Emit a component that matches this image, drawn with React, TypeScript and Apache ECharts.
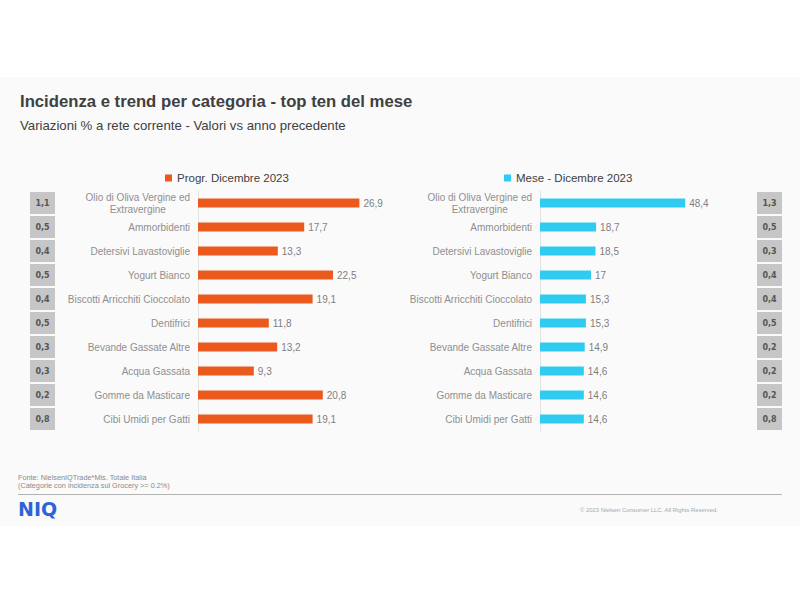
import React, { useEffect, useRef } from "react";
import * as echarts from "echarts";

const categories = [
  "Olio di Oliva Vergine ed\nExtravergine",
  "Ammorbidenti",
  "Detersivi Lavastoviglie",
  "Yogurt Bianco",
  "Biscotti Arricchiti Cioccolato",
  "Dentifrici",
  "Bevande Gassate Altre",
  "Acqua Gassata",
  "Gomme da Masticare",
  "Cibi Umidi per Gatti",
];
const progrValues = [26.9, 17.7, 13.3, 22.5, 19.1, 11.8, 13.2, 9.3, 20.8, 19.1];
const meseValues = [48.4, 18.7, 18.5, 17, 15.3, 15.3, 14.9, 14.6, 14.6, 14.6];
const progrShare = ["1,1", "0,5", "0,4", "0,5", "0,4", "0,5", "0,3", "0,3", "0,2", "0,8"];
const meseShare = ["1,3", "0,5", "0,3", "0,4", "0,4", "0,5", "0,2", "0,2", "0,2", "0,8"];
const seriesNames = ["Progr. Dicembre 2023", "Mese - Dicembre 2023"];

const FONT = "Arial, 'Liberation Sans', sans-serif";
const ORANGE = "#EA5A1F";
const CYAN = "#2FCBF1";
const LABEL_GRAY = "#8f8f8f";

const catLabel = {
  margin: 8,
  fontSize: 10,
  fontFamily: FONT,
  color: LABEL_GRAY,
  lineHeight: 12,
  formatter: (v: string) =>
    v.includes("\n")
      ? v
          .split("\n")
          .map((l) => `{c|${l}}`)
          .join("\n")
      : v,
  rich: {
    c: { align: "center", fontSize: 10, fontFamily: FONT, color: LABEL_GRAY, lineHeight: 12 },
  },
};

const boxRich = {
  b: {
    backgroundColor: "#c6c6c6",
    width: 25,
    height: 22,
    lineHeight: 22,
    align: "center",
    fontSize: 8,
    fontWeight: "bold",
    fontFamily: "'DejaVu Sans', sans-serif",
    color: "#555555",
  },
};

const fmt = (v: number) => String(v).replace(".", ",");

export default function App() {
  const ref = useRef<HTMLDivElement>(null);
  useEffect(() => {
    if (!ref.current) return;
    const chart = echarts.init(ref.current, undefined, { renderer: "svg" });
    chart.setOption({
      animation: false,
      backgroundColor: "#ffffff",
      textStyle: { fontFamily: FONT },
      legend: [
        {
          data: [seriesNames[0]],
          left: 160,
          top: 167,
          icon: "rect",
          itemWidth: 7,
          itemHeight: 7,
          itemGap: 5,
          textStyle: { fontSize: 11.5, color: "#404040", fontFamily: FONT },
        },
        {
          data: [seriesNames[1]],
          left: 499,
          top: 167,
          icon: "rect",
          itemWidth: 7,
          itemHeight: 7,
          itemGap: 5,
          textStyle: { fontSize: 11.5, color: "#404040", fontFamily: FONT },
        },
      ],
      grid: [
        { left: 198, top: 191, width: 180, height: 240 },
        { left: 540, top: 191, width: 198, height: 240 },
      ],
      xAxis: [
        { gridIndex: 0, type: "value", min: 0, max: 30, show: false },
        { gridIndex: 1, type: "value", min: 0, max: 66, show: false },
      ],
      yAxis: [
        {
          gridIndex: 0,
          type: "category",
          inverse: true,
          data: categories,
          axisLine: { show: true, lineStyle: { color: "#e4e4e4", width: 1 } },
          axisTick: { show: false },
          axisLabel: catLabel,
        },
        {
          gridIndex: 0,
          type: "category",
          inverse: true,
          data: categories,
          position: "left",
          offset: 143,
          axisLine: { show: false },
          axisTick: { show: false },
          axisLabel: {
            margin: 0,
            formatter: (_v: string, i: number) => `{b|${progrShare[i]}}`,
            rich: boxRich,
          },
        },
        {
          gridIndex: 1,
          type: "category",
          inverse: true,
          data: categories,
          axisLine: { show: true, lineStyle: { color: "#e4e4e4", width: 1 } },
          axisTick: { show: false },
          axisLabel: catLabel,
        },
        {
          gridIndex: 1,
          type: "category",
          inverse: true,
          data: categories,
          position: "right",
          offset: 19,
          axisLine: { show: false },
          axisTick: { show: false },
          axisLabel: {
            margin: 0,
            formatter: (_v: string, i: number) => `{b|${meseShare[i]}}`,
            rich: boxRich,
          },
        },
      ],
      series: [
        {
          name: seriesNames[0],
          type: "bar",
          xAxisIndex: 0,
          yAxisIndex: 0,
          data: progrValues,
          barWidth: 9,
          itemStyle: { color: ORANGE },
          label: {
            show: true,
            position: "right",
            distance: 4,
            fontSize: 10,
            fontFamily: FONT,
            color: "#7f7f7f",
            formatter: (p: any) => fmt(p.value),
          },
        },
        {
          name: seriesNames[1],
          type: "bar",
          xAxisIndex: 1,
          yAxisIndex: 2,
          data: meseValues,
          barWidth: 9,
          itemStyle: { color: CYAN },
          label: {
            show: true,
            position: "right",
            distance: 4,
            fontSize: 10,
            fontFamily: FONT,
            color: "#7f7f7f",
            formatter: (p: any) => fmt(p.value),
          },
        },
      ],
      graphic: [
        {
          type: "rect",
          z: -10,
          shape: { x: 0, y: 77, width: 800, height: 449 },
          style: { fill: "#fafafa" },
          silent: true,
        },
        {
          type: "text",
          x: 20,
          y: 101,
          style: {
            text: "Incidenza e trend per categoria - top ten del mese",
            font: `bold 16.7px ${FONT}`,
            fill: "#404040",
            verticalAlign: "middle",
          },
        },
        {
          type: "text",
          x: 20,
          y: 125,
          style: {
            text: "Variazioni % a rete corrente - Valori vs anno precedente",
            font: `13.2px ${FONT}`,
            fill: "#404040",
            verticalAlign: "middle",
          },
        },
        {
          type: "text",
          x: 18,
          y: 477,
          style: {
            text: "Fonte: NielsenIQTrade*Mis. Totale Italia",
            font: `7.3px ${FONT}`,
            fill: "#8a8a8a",
            verticalAlign: "middle",
          },
        },
        {
          type: "text",
          x: 18,
          y: 485.5,
          style: {
            text: "(Categorie con incidenza sul Grocery >= 0.2%)",
            font: `7.3px ${FONT}`,
            fill: "#8a8a8a",
            verticalAlign: "middle",
          },
        },
        {
          type: "line",
          shape: { x1: 18, y1: 494.5, x2: 782, y2: 494.5 },
          style: { stroke: "#b3b3b3", lineWidth: 1 },
        },
        {
          type: "text",
          x: 18,
          y: 509,
          style: {
            text: "NIQ",
            font: `bold 19px 'DejaVu Sans', sans-serif`,
            fill: "#2e63d8",
            verticalAlign: "middle",
          },
        },
        {
          type: "text",
          x: 580,
          y: 510,
          style: {
            text: "© 2023 Nielsen Consumer LLC. All Rights Reserved.",
            font: `5.9px ${FONT}`,
            fill: "#a8a8a8",
            verticalAlign: "middle",
          },
        },
      ],
    });
    return () => chart.dispose();
  }, []);
  return (
    <div
      ref={ref}
      style={{ position: "absolute", left: 0, top: 0, width: 800, height: 600 }}
    />
  );
}
